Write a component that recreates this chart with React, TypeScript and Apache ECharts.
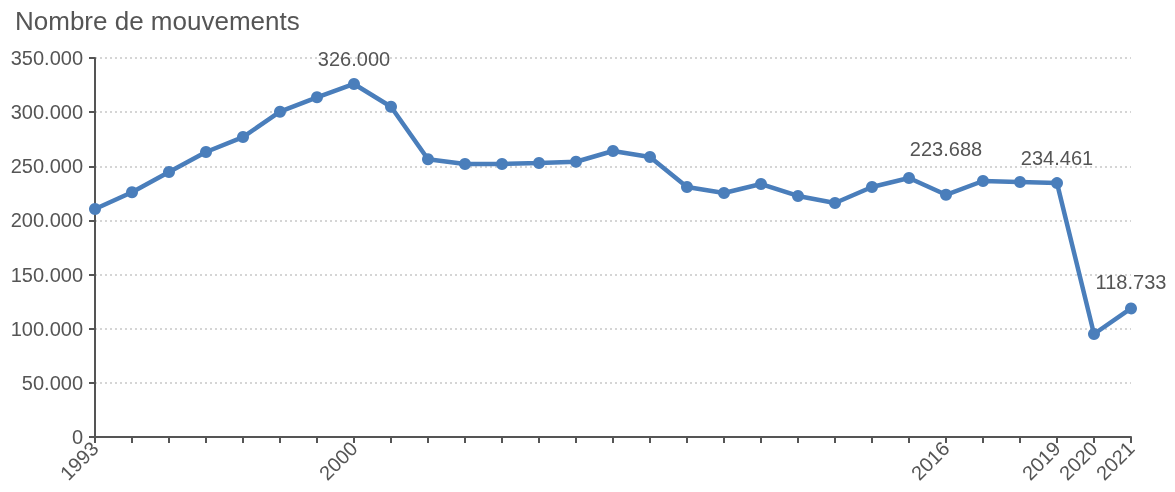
import React, { useEffect, useRef } from "react";
import * as echarts from "echarts";

const years = [
  "1993", "1994", "1995", "1996", "1997", "1998", "1999", "2000", "2001", "2002",
  "2003", "2004", "2005", "2006", "2007", "2008", "2009", "2010", "2011", "2012",
  "2013", "2014", "2015", "2016", "2017", "2018", "2019", "2020", "2021",
];
const movements = [
  210500, 226000, 244700, 263200, 277000, 300400, 313700, 326000, 305000, 256500,
  252100, 252100, 253000, 254200, 264100, 258600, 230900, 225300, 233600, 222600,
  216100, 230900, 239200, 223688, 236400, 235500, 234461, 95100, 118733,
];
const shownYears = ["1993", "2000", "2016", "2019", "2020", "2021"];
const labelledYears = ["2000", "2016", "2019", "2021"];

const fmt = (v: number) =>
  v === 0 ? "0" : Math.round(v).toString().replace(/\B(?=(\d{3})+(?!\d))/g, ".");

export default function App() {
  const ref = useRef<HTMLDivElement>(null);
  useEffect(() => {
    if (!ref.current) return;
    const chart = echarts.init(ref.current, undefined, { renderer: "svg" });
    const font = "Liberation Sans, Arial, sans-serif";
    chart.setOption({
      animation: false,
      textStyle: { fontFamily: font },
      title: {
        text: "Nombre de mouvements",
        left: 10,
        top: 3,
        textStyle: { fontSize: 26, fontWeight: "normal", color: "#555", fontFamily: font },
      },
      grid: { left: 95, right: 44, top: 58, bottom: 55, containLabel: false },
      xAxis: {
        type: "category",
        data: years,
        boundaryGap: false,
        axisLine: { lineStyle: { color: "#555", width: 2 } },
        axisTick: { show: true, interval: 0, length: 6, lineStyle: { color: "#555", width: 2 } },
        axisLabel: {
          interval: 0,
          rotate: 45,
          fontSize: 20,
          color: "#555",
          margin: 8,
          formatter: (v: string) => (shownYears.includes(v) ? v : ""),
        },
        splitLine: { show: false },
      },
      yAxis: {
        type: "value",
        min: 0,
        max: 350000,
        interval: 50000,
        axisLine: { show: true, lineStyle: { color: "#555", width: 2 } },
        axisTick: { show: true, length: 6, lineStyle: { color: "#555", width: 2 } },
        axisLabel: { fontSize: 20, color: "#555", margin: 12, formatter: (v: number) => fmt(v) },
        splitLine: { show: true, lineStyle: { color: "#c8c8c8", type: [2, 3], width: 1.5 } },
      },
      series: [
        {
          type: "line",
          data: movements.map((v, i) => {
            const y = years[i];
            if (!labelledYears.includes(y)) return v;
            return {
              value: v,
              label: {
                show: true,
                position: "top",
                distance: y === "2016" ? 30 : y === "2021" ? 10 : 9,
                fontSize: 20,
                color: "#555",
                formatter: () => fmt(v),
              },
            };
          }),
          symbol: "circle",
          symbolSize: 12,
          lineStyle: { color: "#4a7ebb", width: 4.5 },
          itemStyle: { color: "#4a7ebb" },
        },
      ],
    });
    return () => chart.dispose();
  }, []);
  return (
    <div
      ref={ref}
      style={{ position: "fixed", left: 0, top: 0, width: 1175, height: 492 }}
    />
  );
}
